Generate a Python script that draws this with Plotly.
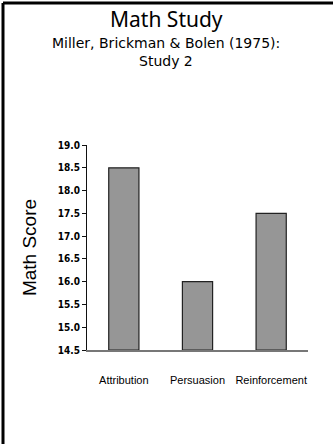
import plotly.graph_objects as go

categories = ["Attribution", "Persuasion", "Reinforcement"]
math_scores = [18.5, 16.0, 17.5]
y_tick_values = [14.5, 15.0, 15.5, 16.0, 16.5, 17.0, 17.5, 18.0, 18.5, 19.0]
y_tick_labels = ["14.5", "15.0", "15.5", "16.0", "16.5", "17.0", "17.5", "18.0", "18.5", "19.0"]

W, H = 333, 444
L, R, T, B = 87, 25, 145, 94
pw, ph = W - L - R, H - T - B

def px_to_paper_x(px):
    return (px - L) / pw

def px_to_paper_y(py):
    return (H - B - py) / ph

fig = go.Figure()
fig.add_trace(go.Bar(
    x=categories, y=[v - 14.5 for v in math_scores], base=14.5,
    marker=dict(color="#969696", line=dict(color="#222222", width=1.2)),
    width=0.41,
))

fig.update_layout(
    width=W, height=H,
    margin=dict(l=L, r=R, t=T, b=B),
    paper_bgcolor="white", plot_bgcolor="white",
    showlegend=False,
    xaxis=dict(
        showline=True, linecolor="#777777", linewidth=2,
        ticks="", showgrid=False,
        tickfont=dict(family="Liberation Sans, Arial", size=11, color="black"),
        ticklabelstandoff=19,
    ),
    yaxis=dict(
        range=[14.5, 19.0], tickvals=y_tick_values, ticktext=y_tick_labels,
        showline=True, linecolor="#111111", linewidth=1,
        ticks="outside", ticklen=4, tickcolor="#111111",
        showgrid=False, zeroline=False,
        tickfont=dict(family="Liberation Sans Narrow, DejaVu Sans Condensed, Liberation Sans, Arial",
                      size=10, color="black", weight="bold"),
        title=dict(text="Math Score", font=dict(family="Liberation Sans, Arial", size=19, color="black"), standoff=16),
    ),
    font=dict(family="Liberation Sans, Arial", color="black"),
)

fig.add_annotation(
    text="Math Study", xref="paper", yref="paper",
    x=px_to_paper_x(166), y=px_to_paper_y(19), xanchor="center", yanchor="middle",
    showarrow=False, font=dict(family="Noto Sans, DejaVu Sans", size=21, color="black"),
)
fig.add_annotation(
    text="Miller, Brickman & Bolen (1975):", xref="paper", yref="paper",
    x=px_to_paper_x(166), y=px_to_paper_y(43), xanchor="center", yanchor="middle",
    showarrow=False, font=dict(family="DejaVu Sans, Noto Sans", size=14, color="black"),
)
fig.add_annotation(
    text="Study 2", xref="paper", yref="paper",
    x=px_to_paper_x(166), y=px_to_paper_y(61), xanchor="center", yanchor="middle",
    showarrow=False, font=dict(family="DejaVu Sans, Noto Sans", size=14, color="black"),
)

# partial slide frame (top and left edges)
fig.add_shape(type="line", xref="paper", yref="paper",
              x0=px_to_paper_x(3), x1=px_to_paper_x(W),
              y0=px_to_paper_y(3), y1=px_to_paper_y(3),
              line=dict(color="black", width=3))
fig.add_shape(type="line", xref="paper", yref="paper",
              x0=px_to_paper_x(3), x1=px_to_paper_x(3),
              y0=px_to_paper_y(3), y1=px_to_paper_y(H),
              line=dict(color="black", width=3))

fig.write_html("out.html", config={"displayModeBar": False},
               post_script="document.documentElement.style.overflow='hidden';document.body.style.margin='0px';document.body.style.overflow='hidden';")
